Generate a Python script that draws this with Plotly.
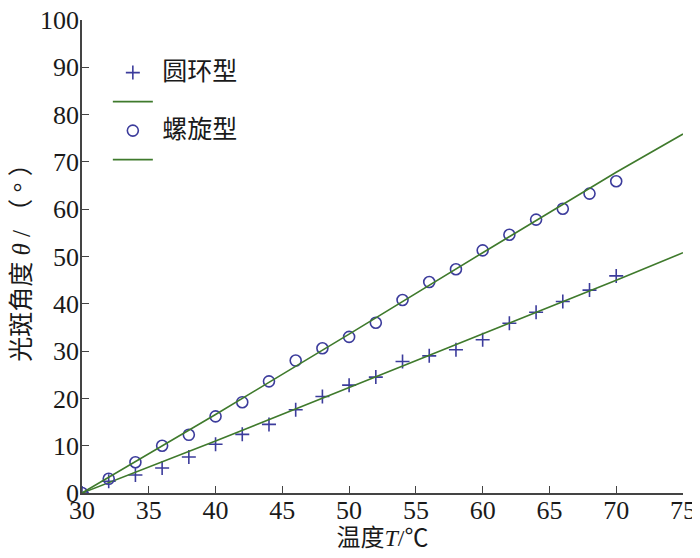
import plotly.graph_objects as go

# measured points
temp = [30, 32, 34, 36, 38, 40, 42, 44, 46, 48, 50, 52, 54, 56, 58, 60, 62, 64, 66, 68, 70]
ring = [0, 2.5, 3.8, 5.3, 7.6, 10.3, 12.4, 14.5, 17.6, 20.4, 22.8, 24.5, 27.8, 29.0,
        30.3, 32.4, 35.9, 38.2, 40.5, 42.9, 45.9]
spiral = [0, 3.0, 6.5, 10.0, 12.3, 16.2, 19.2, 23.6, 28.0, 30.6, 33.0, 36.0, 40.8, 44.6,
          47.3, 51.3, 54.6, 57.8, 60.1, 63.3, 65.9]

# fitted curves
fit_t = [30, 40, 50, 60, 70, 75]
ring_fit = [0, 11.0, 22.3, 33.6, 45.0, 50.8]
spiral_fit = [0, 16.6, 33.6, 50.8, 67.8, 75.9]

x_ticks = [30, 35, 40, 45, 50, 55, 60, 65, 70, 75]
y_ticks = [0, 10, 20, 30, 40, 50, 60, 70, 80, 90, 100]

mark_col = '#3c3c9c'
line_col = '#3f7a2c'
num_font = dict(family='Liberation Serif', size=26, color='#1a1a1a')
cjk_font = dict(family='Liberation Serif, Noto Sans CJK SC', size=24, color='#1a1a1a')
ytitle_font = dict(family='Liberation Serif, Noto Sans CJK SC', size=25, color='#1a1a1a')


def big(txt):
    # larger label text while keeping the legend row height small
    return '\u00a0<span style="font-size:25px">%s</span>' % txt


fig = go.Figure()
fig.add_trace(go.Scatter(x=temp, y=ring, mode='markers', name=big('圆环型'),
                         marker=dict(symbol='cross-thin', size=10, line=dict(color=mark_col, width=1.6))))
fig.add_trace(go.Scatter(x=fit_t, y=ring_fit, mode='lines', name=' ', showlegend=True,
                         line=dict(color=line_col, width=1.6)))
fig.add_trace(go.Scatter(x=temp, y=spiral, mode='markers', name=big('螺旋型'),
                         marker=dict(symbol='circle-open', size=11, color=mark_col, line=dict(width=1.6))))
fig.add_trace(go.Scatter(x=fit_t, y=spiral_fit, mode='lines', name=' ', showlegend=True,
                         line=dict(color=line_col, width=1.6)))

# page body adds ~8px offset, margins compensate
fig.update_layout(
    width=700, height=558,
    margin=dict(l=74, r=25, t=12, b=73),
    paper_bgcolor='white', plot_bgcolor='white',
    font=cjk_font,
    legend=dict(x=0.043, y=0.93, xanchor='left', yanchor='top',
                font=dict(family='Noto Sans CJK SC', size=20, color='#1a1a1a'),
                itemwidth=40, bgcolor='rgba(0,0,0,0)', tracegroupgap=0),
    xaxis=dict(range=[30, 75], tickvals=x_ticks, ticks='inside', ticklen=7,
               showline=True, linecolor='#444444', linewidth=1.5, tickcolor='#444444',
               showgrid=False, zeroline=False, automargin=False, tickfont=num_font,
               ticklabelstandoff=-7, ticklabeloverflow='allow',
               title=dict(text='\u00a0\u00a0温度<i>T</i>/℃', font=cjk_font, standoff=0)),
    yaxis=dict(range=[0, 100], tickvals=y_ticks, ticks='inside', ticklen=7,
               showline=True, linecolor='#444444', linewidth=1.5, tickcolor='#444444',
               showgrid=False, zeroline=False, automargin=False, tickfont=num_font,
               ticklabelstandoff=-4, ticklabeloverflow='allow',
               title=dict(text='光斑角度 <i>θ</i> / （ ° ）', font=ytitle_font, standoff=27)),
)

fig.write_html("out.html")
